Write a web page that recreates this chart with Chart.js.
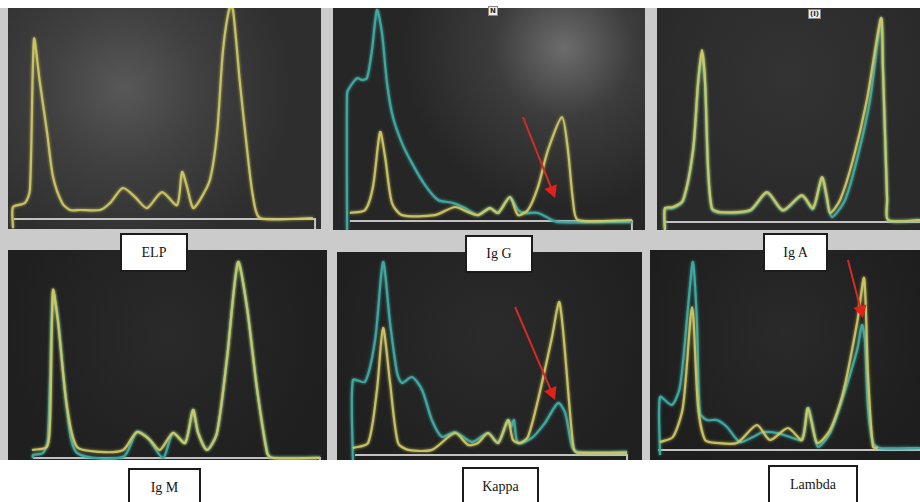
<!DOCTYPE html>
<html>
<head>
<meta charset="utf-8">
<script src="https://cdn.jsdelivr.net/npm/chart.js@4.4.1/dist/chart.umd.min.js"></script>
<style>
  body { margin: 0; width: 920px; height: 502px; background: #fff; position: relative; overflow: hidden;
         font-family: "Liberation Serif", "DejaVu Serif", serif; }
  .frame { position: absolute; left: 0; top: 8px; width: 920px; height: 452px; background: #cbcbcb; }
  .panel { position: absolute; overflow: hidden; }
  .panel canvas { position: absolute; left: 0; top: 0; }
  .tag { position: absolute; background: #fff; border: 2px solid #1c1c1c; box-sizing: border-box;
         display: flex; align-items: center; justify-content: center; font-size: 14px; color: #151515; z-index: 5; }
  .mini { position: absolute; background: #eee; color: #222; font: bold 7px "DejaVu Sans", sans-serif;
          padding: 0 1px; line-height: 8px; border: 1px solid #888; z-index: 5; }
</style>
</head>
<body>
<div class="frame"></div>

<div class="panel" style="left:8px;top:8px;width:313px;height:221px;background:radial-gradient(circle at 37% 36%, #585858 0%, #404040 32%, #2e2e2e 70%);"><canvas id="elp" width="313" height="221"></canvas></div>
<div class="panel" style="left:333px;top:8px;width:312px;height:222px;background:radial-gradient(circle at 74% 18%, #6c6c6c 0%, #3c3c3c 24%, #262626 55%);"><canvas id="igg" width="312" height="222"></canvas></div>
<div class="panel" style="left:657px;top:8px;width:263px;height:222px;background:radial-gradient(circle at 50% 30%, #333 0%, #2a2a2a 70%);"><canvas id="iga" width="263" height="222"></canvas></div>
<div class="panel" style="left:8px;top:250px;width:319px;height:210px;background:radial-gradient(circle at 50% 40%, #2a2a2a 0%, #1f1f1f 80%);"><canvas id="igm" width="319" height="210"></canvas></div>
<div class="panel" style="left:337px;top:252px;width:305px;height:208px;background:radial-gradient(circle at 50% 40%, #2b2b2b 0%, #202020 80%);"><canvas id="kappa" width="305" height="208"></canvas></div>
<div class="panel" style="left:650px;top:250px;width:270px;height:210px;background:radial-gradient(circle at 50% 40%, #2a2a2a 0%, #1e1e1e 80%);"><canvas id="lambda" width="270" height="210"></canvas></div>

<div class="tag" style="left:120px;top:233px;width:68px;height:39px;">ELP</div>
<div class="tag" style="left:465px;top:235px;width:68px;height:38px;">Ig G</div>
<div class="tag" style="left:763px;top:233px;width:65px;height:39px;">Ig A</div>
<div class="tag" style="left:128px;top:468px;width:73px;height:40px;">Ig M</div>
<div class="tag" style="left:462px;top:467px;width:77px;height:40px;">Kappa</div>
<div class="tag" style="left:768px;top:465px;width:90px;height:40px;">Lambda</div>
<div class="mini" style="left:488px;top:6px;">N</div>
<div class="mini" style="left:808px;top:9px;">(I)</div>

<script>
// migration position (0-100) vs. relative absorbance, 0 = baseline
const elpYellow = [[1.6,-4.3],[1.6,5.7],[5.4,7.6],[7.0,13.7],[8.3,85.3],[10.2,64.5],[12.5,40.8],[14.4,19.9],[17.3,7.6],
  [19.8,4.3],[23.0,4.3],[29.4,4.3],[32.6,7.6],[36.7,14.7],[40.6,10.4],[44.4,5.2],[49.2,12.8],[54.0,6.6],[55.6,22.3],
  [57.2,15.2],[59.1,5.2],[61.3,9.0],[64.5,18.5],[66.8,40.8],[68.7,80.1],[70.9,101],[71.9,99],[74.1,64.5],[76.4,32.7],
  [78.3,10.4],[80.5,0.5],[97.4,0.5]];

const iggTeal = [[4.5,-4.2],[4.5,60.1],[5.4,62.9],[7.7,67.1],[9.3,66.2],[10.9,67.1],[12.5,80.3],[14.1,99.1],[15.7,88.3],
  [17.3,64.8],[19.2,48.8],[22.1,36.6],[25.3,27.2],[29.5,16.9],[33.7,9.9],[38.5,8.5],[42.3,6.1],[46.5,2.8],[50.3,6.1],
  [52.9,3.8],[56.7,11.3],[59.3,5.2],[61.5,3.8],[65.7,3.8],[70.2,0.5],[72.1,-0.5],[95.8,-0.5]];
const iggYellow = [[5.4,3.8],[10.3,5.2],[12.8,16.0],[15.1,41.8],[16.7,30.0],[18.9,8.5],[22.1,2.8],[32.7,2.8],[39.1,6.6],
  [43.3,4.2],[46.5,2.8],[50.3,6.1],[52.9,3.8],[56.7,11.3],[59.3,2.8],[62.5,5.2],[65.7,16.0],[68.9,33.3],[73.4,48.8],
  [75.3,33.3],[76.9,9.9],[78.5,0.5],[95.8,0.5]];

const igaYellow = [[3.0,-3.7],[3.0,6.5],[6.1,7.0],[9.9,10.3],[13.7,33.6],[15.6,65.0],[17.1,80.4],[18.3,65.0],[19.4,25.7],
  [20.9,6.5],[24.0,4.7],[35.4,5.6],[41.8,14.0],[47.9,5.6],[55.1,12.6],[59.3,6.5],[62.7,21.0],[64.6,11.7],[65.8,4.2],
  [69.6,10.3],[74.5,29.0],[79.8,57.0],[85.2,95.3],[85.9,72.4],[87.5,10.3],[87.8,0.9],[100,0.9]];
const igaTeal = [[3.0,-3.7],[3.0,6.0],[6.1,6.5],[9.9,9.8],[13.7,33.0],[15.6,64.0],[17.1,79.5],[18.3,64.0],[19.4,24.5],
  [20.9,5.8],[24.0,4.2],[35.4,5.2],[41.8,13.6],[47.9,5.2],[55.1,12.2],[59.3,6.0],[62.7,20.5],[64.6,10.5],[66.5,2.3],
  [71.5,10.3],[76.0,29.0],[81.0,57.0],[85.2,95.0],[85.9,72.0],[87.5,10.0],[88.0,0.9],[100,0.9]];

const igmYellow = [[7.5,3.8],[12.2,5.3],[13.2,18.3],[14.1,80.8],[15.7,64.9],[18.5,24.5],[21.6,5.3],[28.8,2.9],[36.1,3.8],
  [40.4,12.5],[44.5,8.7],[47.6,3.8],[51.7,12.0],[55.5,7.2],[58.0,23.1],[59.6,12.0],[62.4,3.8],[65.5,12.0],[68.7,48.6],
  [72.1,94.2],[74.9,72.6],[78.1,32.7],[81.2,2.4],[82.8,0],[97.8,0]];
const igmTeal = [[7.8,0],[7.8,1.4],[11.0,2.4],[12.5,8.7],[14.1,79.8],[15.7,66.3],[18.5,23.1],[21.6,2.4],[36.1,0.5],
  [40.4,12.5],[43.6,10.1],[48.6,0],[51.7,12.0],[55.5,7.2],[58.0,23.1],[59.6,12.0],[62.4,3.8],[65.5,12.0],[68.7,48.6],
  [72.1,94.2],[74.9,72.6],[78.1,32.7],[81.5,1.4],[82.8,0],[97.8,0]];

const kappaTeal = [[5.2,-2.5],[5.2,36.9],[9.2,36.0],[12.5,56.7],[15.1,95.1],[17.4,65.0],[19.7,40.4],[21.3,35.5],[24.6,38.4],
  [27.9,32.0],[31.1,17.2],[34.4,8.9],[38.7,11.3],[44.3,6.4],[49.5,10.8],[52.8,5.9],[56.1,17.2],[57.1,13.8],[58.0,17.2],
  [59.3,5.9],[63.9,8.4],[68.2,15.8],[72.5,25.6],[74.8,20.7],[77.1,3.9],[79.0,1.5],[95.1,1.5]];
const kappaYellow = [[5.2,3.4],[10.2,5.9],[13.1,32.0],[15.1,62.6],[17.4,35.5],[20.0,5.9],[23.3,2.5],[31.1,2.5],[38.7,10.8],
  [43.0,4.9],[46.2,5.9],[49.5,10.8],[52.8,5.9],[56.1,17.2],[57.7,7.4],[60.0,5.9],[62.6,8.9],[65.9,27.1],[70.5,58.1],
  [72.8,75.4],[74.1,61.6],[76.4,20.7],[77.7,2.5],[79.0,1.0],[95.1,1.0]];

const lambdaTeal = [[3.7,-2.5],[3.7,26.5],[8.1,22.5],[11.1,31.5],[14.1,71.5],[15.9,94.0],[17.4,63.5],[18.5,18.5],[21.1,15.0],
  [24.8,15.0],[28.5,11.5],[33.3,4.0],[38.1,6.5],[41.9,9.0],[47.0,8.5],[51.9,6.5],[56.3,5.0],[58.5,21.0],[60.4,11.5],
  [62.2,1.5],[66.7,8.5],[71.5,26.5],[76.7,50.0],[78.5,62.5],[79.6,55.0],[80.7,21.5],[82.6,3.5],[85.2,1.0],[100,1.0]];
const lambdaYellow = [[3.7,4.0],[8.5,6.5],[12.2,21.5],[15.6,71.5],[17.8,21.5],[20.4,5.0],[24.8,3.5],[32.2,3.5],[39.6,12.5],
  [44.4,5.0],[51.1,11.0],[56.3,5.0],[58.5,21.0],[61.9,3.5],[66.7,10.0],[71.5,28.5],[76.7,63.5],[79.3,86.0],[80.7,38.5],
  [82.6,1.5],[84.4,1.0]];

// baselines drawn under each trace (start, end)
const elpBase = [[1.9,0],[98.1,0],[98.1,-4.7]];
const iggBase = [[5.4,0],[95.8,0],[95.8,-4.2]];
const igaBase = [[3.0,0],[100,0]];
const igmBase = [[7.8,0],[97.8,0],[97.8,-1]];
const kappaBase = [[5.9,0],[95.1,0],[95.1,-2.5]];
const lambdaBase = [[3.0,0],[100,0]];

// red arrows marking the monoclonal band [from, to]
const iggArrow = [[60.9,48.8],[71.2,10.8]];
const kappaArrow = [[58.4,72.9],[71.5,27.1]];
const lambdaArrow = [[73.3,95],[78.9,66]];

const YELLOW = 'rgba(206,200,100,0.92)';
const TEAL = '#3ea79f';

const glow = {
  id: 'glow',
  beforeDatasetDraw(chart, args) {
    const ds = chart.data.datasets[args.index];
    chart.ctx.save();
    chart.ctx.shadowColor = ds.borderColor;
    chart.ctx.shadowBlur = ds.glow || 0;
  },
  afterDatasetDraw(chart) {
    chart.ctx.restore();
  }
};

const arrow = {
  id: 'arrow',
  afterDatasetsDraw(chart, args, opts) {
    if (!opts.path) return;
    const ctx = chart.ctx;
    const xs = chart.scales.x, ys = chart.scales.y;
    const x1 = xs.getPixelForValue(opts.path[0][0]), y1 = ys.getPixelForValue(opts.path[0][1]);
    const x2 = xs.getPixelForValue(opts.path[1][0]), y2 = ys.getPixelForValue(opts.path[1][1]);
    const a = Math.atan2(y2 - y1, x2 - x1);
    const hl = 14;
    ctx.save();
    ctx.strokeStyle = '#d42b25';
    ctx.fillStyle = '#e3201a';
    ctx.lineWidth = 2;
    ctx.beginPath();
    ctx.moveTo(x1, y1);
    ctx.lineTo(x2 - hl * 0.8 * Math.cos(a), y2 - hl * 0.8 * Math.sin(a));
    ctx.stroke();
    ctx.beginPath();
    ctx.moveTo(x2, y2);
    ctx.lineTo(x2 - hl * Math.cos(a - 0.5), y2 - hl * Math.sin(a - 0.5));
    ctx.lineTo(x2 - hl * Math.cos(a + 0.5), y2 - hl * Math.sin(a + 0.5));
    ctx.closePath();
    ctx.fill();
    ctx.restore();
  }
};

function trace(data, color, order) {
  return { data: data, borderColor: color, borderWidth: 2.2, pointRadius: 0, tension: 0.25, glow: 3, order: order };
}

function makeChart(id, base, teal, yellow, arrowPath, yMin) {
  const datasets = [
    { data: base, borderColor: '#c2c2c2', borderWidth: 2, pointRadius: 0, tension: 0, order: 3 }
  ];
  if (teal) datasets.push(trace(teal, TEAL, 2));
  datasets.push(trace(yellow, YELLOW, 1));
  return new Chart(document.getElementById(id).getContext('2d'), {
    type: 'line',
    data: { datasets: datasets },
    options: {
      responsive: false,
      animation: false,
      layout: { padding: 0 },
      plugins: { legend: { display: false }, tooltip: { enabled: false }, arrow: { path: arrowPath } },
      scales: {
        x: { type: 'linear', min: 0, max: 100, display: false },
        y: { min: yMin, max: 100, display: false }
      }
    },
    plugins: [glow, arrow]
  });
}

makeChart('elp', elpBase, null, elpYellow, null, -4.7);
makeChart('igg', iggBase, iggTeal, iggYellow, iggArrow, -4.2);
makeChart('iga', igaBase, igaTeal, igaYellow, null, -3.7);
makeChart('igm', igmBase, igmTeal, igmYellow, null, -1);
makeChart('kappa', kappaBase, kappaTeal, kappaYellow, kappaArrow, -2.5);
makeChart('lambda', lambdaBase, lambdaTeal, lambdaYellow, lambdaArrow, -5);
</script>
</body>
</html>
